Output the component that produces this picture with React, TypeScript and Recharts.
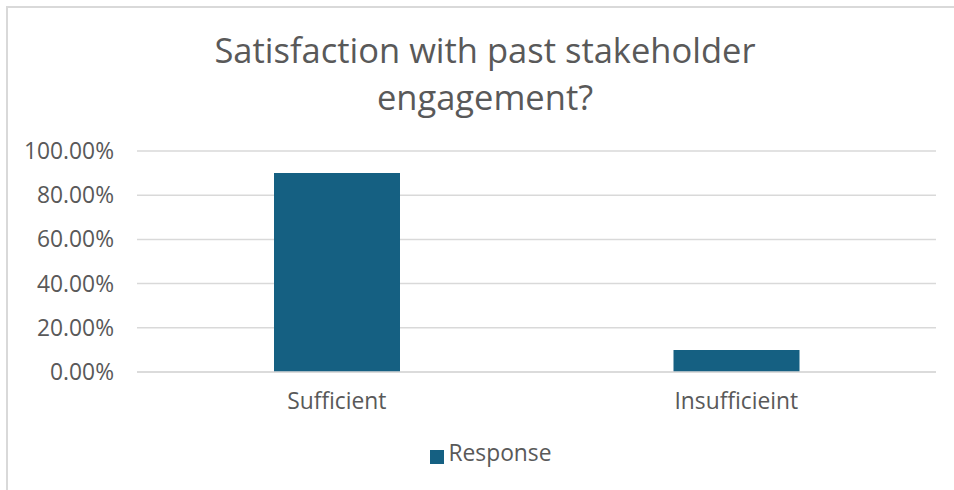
import React from "react";
import { BarChart, Bar, XAxis, YAxis, CartesianGrid, Legend } from "recharts";

const categories = ["Sufficient", "Insufficieint"];
const responseValues = [0.9, 0.1];
const yTicks = [0, 0.2, 0.4, 0.6, 0.8, 1];
const seriesName = "Response";
const titleLines = ["Satisfaction with past stakeholder", "engagement?"];

const data = categories.map((name, i) => ({ name, value: responseValues[i] }));

const FONT = "'Open Sans', sans-serif";
const TEXT = "#595959";
const GRID = "#d9d9d9";
const BAR = "#156082";
const FS = 22.8;

const pct = (v: number) => `${(v * 100).toFixed(2)}%`;

export default function App() {
  return (
    <div
      style={{
        position: "fixed",
        left: 0,
        top: 0,
        width: 954,
        height: 490,
        overflow: "hidden",
        background: "#fff",
        fontFamily: FONT,
      }}
    >
      <div
        style={{
          position: "absolute",
          left: 6,
          top: 6,
          width: 1000,
          height: 600,
          border: `2px solid ${GRID}`,
        }}
      />
      <div
        style={{
          position: "absolute",
          left: 0,
          top: 26,
          width: 970,
          textAlign: "center",
          color: TEXT,
          fontSize: 34.5,
          lineHeight: "47px",
        }}
      >
        {titleLines.map((t) => (
          <div key={t}>{t}</div>
        ))}
      </div>
      <div style={{ position: "absolute", left: 0, top: 0 }}>
        <BarChart
          width={954}
          height={490}
          data={data}
          margin={{ top: 151, right: 18, left: 0, bottom: 78 }}
          barCategoryGap={137}
        >
          <CartesianGrid vertical={false} stroke={GRID} strokeWidth={1.5} />
          <XAxis
            dataKey="name"
            height={40}
            tickLine={false}
            axisLine={{ stroke: GRID, strokeWidth: 1.5 }}
            tickSize={0}
            tickMargin={21}
            tick={{ fill: TEXT, fontSize: FS, fontFamily: FONT }}
          />
          <YAxis
            width={137}
            domain={[0, 1]}
            ticks={yTicks}
            tickFormatter={pct}
            axisLine={false}
            tickLine={false}
            tickSize={0}
            tickMargin={23}
            tick={{ fill: TEXT, fontSize: FS, fontFamily: FONT }}
          />
          <Legend
            verticalAlign="middle"
            align="center"
            iconType="square"
            iconSize={14}
            wrapperStyle={{ top: 437, left: 6, width: 980 }}
            formatter={(v) => (
              <span style={{ color: TEXT, fontSize: FS, fontFamily: FONT }}>{v}</span>
            )}
          />
          <Bar dataKey="value" name={seriesName} fill={BAR} isAnimationActive={false} />
        </BarChart>
      </div>
    </div>
  );
}
